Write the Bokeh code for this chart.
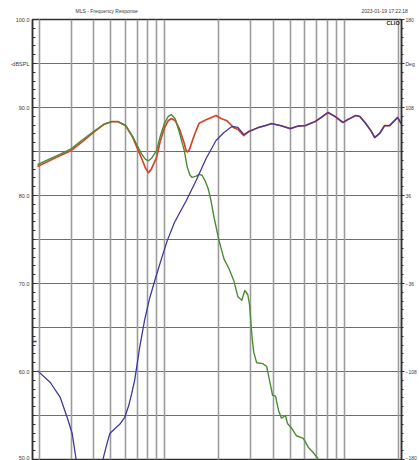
from bokeh.plotting import figure
from bokeh.models import Range1d, LinearAxis, LogAxis, FixedTicker, Grid, Label
from bokeh.embed import file_html
from bokeh.resources import INLINE
import numpy as np

# ---------------- data ----------------
# total response (red), low/mid part; above 1.4 kHz it follows the shared array
total_freq = [97.5, 115, 130.6, 150, 173, 201, 229, 253, 273, 302, 331, 352, 371, 390, 405,
              420, 449, 472, 497, 522, 543, 571, 601, 641, 654, 666, 680, 692, 730, 775, 848, 915,
              963, 1026, 1107, 1210, 1274, 1375]
total_spl = [83.3, 84.0, 84.55, 85.1, 86.1, 87.2, 88.1, 88.4, 88.4, 87.95, 86.6, 85.3, 84.2, 83.1, 82.6,
             83.0, 84.3, 86.25, 87.7, 88.5, 88.75, 88.5, 87.6, 85.9, 85.2, 84.95, 85.1, 85.5, 86.9, 88.2, 88.6, 88.9,
             89.1, 88.75, 88.5, 87.7, 87.5, 86.8]

# woofer (green)
woofer_freq = [97.5, 115, 130.6, 150, 173, 201, 229, 253, 273, 302, 331, 352, 371, 390, 405,
               420, 449, 472, 497, 522, 543, 571, 601, 641, 666, 690, 709, 746, 775, 805, 836,
               870, 903, 939, 1000, 1066, 1136, 1210, 1274, 1340, 1392, 1446, 1480, 1503, 1530, 1561,
               1621, 1750, 1842, 1913, 1988, 2065, 2145, 2229, 2346, 2406, 2531, 2697, 2949, 3143,
               3349, 3524, 3707]
woofer_spl = [83.5, 84.2, 84.7, 85.3, 86.3, 87.3, 88.1, 88.4, 88.4, 87.95, 86.7, 85.6, 84.7, 84.1, 83.95,
              84.2, 85.1, 86.8, 88.2, 89.0, 89.2, 88.7, 87.2, 85.1, 83.2, 82.3, 82.05, 82.2, 82.4, 82.3, 81.7,
              80.8, 79.4, 77.5, 74.9, 72.8, 71.7, 70.3, 68.5, 68.1, 69.2, 68.75, 67.6, 65.8, 63.8, 62.2,
              61.0, 60.9, 60.6, 59.0, 57.3, 57.2, 55.6, 54.7, 55.0, 54.1, 53.6, 52.7, 52.4, 51.4,
              50.8, 50.2, 49.6]

# tweeter (blue), low part
tweeter_freq = [97.5, 115, 130.6, 142.8, 152.2, 160.1, 166.3, 191, 217, 225.7, 237.8, 246.8, 263, 280,
                298.6, 314, 326.5, 339, 347.8, 361.4, 385, 410.6, 443, 478, 516, 564, 657, 746,
                848, 963, 1066, 1180, 1274, 1375]
tweeter_spl = [60.1, 58.75, 57.05, 54.77, 52.95, 50.0, 48.5, 46.0, 48.5, 50.0, 51.8, 52.95, 53.5, 54.0,
               54.8, 56.1, 57.5, 59.0, 60.45, 62.7, 65.8, 68.3, 70.6, 72.8, 74.9, 76.9, 79.4, 81.7,
               84.2, 86.25, 87.16, 87.84, 87.73, 86.93]

# high range, where total and tweeter coincide
shared_freq = [1465, 1561, 1663, 1818, 1963, 2200, 2499, 2767, 3025, 3436, 3707, 4053, 4431, 4905,
               5226, 5787, 6088, 6571, 7002, 7369, 7852, 8371, 8920, 9875, 10523, 11212]
shared_spl = [87.27, 87.5, 87.73, 87.95, 88.18, 87.95, 87.6, 87.9, 87.95, 88.41, 88.86, 89.43, 88.98, 88.3,
              88.64, 89.09, 88.98, 88.18, 87.4, 86.59, 87.05, 87.95, 87.95, 88.86, 87.95, 87.27]

blue_marker_db = 63.4

grid_freqs = [100, 150, 200, 250, 300, 350, 400, 450, 500,
              1000, 1500, 2000, 2500, 3000, 3500, 4000, 4500, 5000, 10000]
spl_labels = {50: "50.0", 60: "60.0", 70: "70.0", 80: "80.0", 90: "90.0", 95: "-dBSPL", 100: "100.0"}
phase_ticks = [180, 144, 108, 36, -36, -108, -180]
phase_labels = {144: "Deg"}
phase_minor = list(np.arange(-180, 180.1, 7.2))

title_text = "MLS - Frequency Response"
date_text = "2023-01-19 17:22:18"
brand_text = "CLIO"
header_at = {237: title_text, 8372: date_text}   # where the header texts are centred (Hz)
brand_at = 10150                                 # right end of the brand mark (Hz)

FONT = "Liberation Sans"
TXT = "#3a3a3a"
AX = "#303030"

p = figure(width=419, height=460, output_backend="svg", toolbar_location=None,
           x_axis_type="log", x_range=Range1d(91.5, 10390), y_range=Range1d(50, 100),
           x_axis_location=None, min_border_left=32, min_border_right=0,
           min_border_top=19, min_border_bottom=1)
p.extra_y_ranges = {"phase": Range1d(-180, 180)}
p.background_fill_color = "white"
p.border_fill_color = "white"
p.outline_line_color = AX
p.outline_line_width = 1.5

# grids
p.ygrid.ticker = FixedTicker(ticks=list(range(50, 101, 5)))
p.ygrid.grid_line_color = "#6e6e6e"
p.ygrid.grid_line_width = 1
vgrid = Grid(dimension=0, ticker=FixedTicker(ticks=grid_freqs),
             grid_line_color="#9c9c9c", grid_line_width=1.6)
p.add_layout(vgrid)

# header line (title + date) as labels of a bare axis above the frame
top = LogAxis(ticker=FixedTicker(ticks=list(header_at.keys()), minor_ticks=[]),
              major_label_overrides=header_at, major_label_text_font=FONT,
              major_label_text_font_size="5px", major_label_text_color=TXT,
              major_label_standoff=6, major_tick_in=0, major_tick_out=0,
              axis_line_color=None, major_tick_line_color=None, minor_tick_line_color=None)
p.add_layout(top, "above")

# left axis
ya = p.yaxis[0]
ya.ticker = FixedTicker(ticks=[50, 60, 70, 80, 90, 95, 100], minor_ticks=list(range(50, 101)))
ya.major_label_overrides = spl_labels
ya.major_label_text_font = FONT
ya.major_label_text_font_size = "5.5px"
ya.major_label_text_color = TXT
ya.major_label_standoff = 3
ya.major_tick_in = 4
ya.major_tick_out = 0
ya.minor_tick_in = 3
ya.minor_tick_out = 0
ya.axis_line_color = AX
ya.axis_line_width = 1.5
ya.major_tick_line_color = AX
ya.minor_tick_line_color = AX

# right (phase) axis
ra = LinearAxis(y_range_name="phase",
                ticker=FixedTicker(ticks=phase_ticks, minor_ticks=phase_minor),
                major_label_overrides=phase_labels, major_label_text_font=FONT,
                major_label_text_font_size="5px", major_label_text_color=TXT,
                major_label_standoff=1, major_tick_in=0, major_tick_out=3,
                minor_tick_in=0, minor_tick_out=2,
                axis_line_color=AX, axis_line_width=1.5,
                major_tick_line_color=AX, minor_tick_line_color=AX)
p.add_layout(ra, "right")

# curves
red_f = total_freq + shared_freq
red_s = total_spl + shared_spl
blue_f = tweeter_freq + shared_freq
blue_s = tweeter_spl + shared_spl
p.line(red_f, red_s, line_color="#d4452c", line_width=1.7, line_join="round")
p.line(woofer_freq, woofer_spl, line_color="#4d8c35", line_width=1.4, line_join="round")
p.line(blue_f, blue_s, line_color="#3f3a9e", line_width=1.3, line_join="round")
p.segment(x0=[91.5], y0=[blue_marker_db], x1=[96.5], y1=[blue_marker_db],
          line_color="#3f3a9e", line_width=1.5)

p.add_layout(Label(x=brand_at, y=99.55, text=brand_text, text_font=FONT,
                   text_font_size="5.5px", text_font_style="bold", text_color="#222222",
                   text_align="right", text_baseline="middle"))

open("out.html", "w").write(file_html(p, INLINE))
